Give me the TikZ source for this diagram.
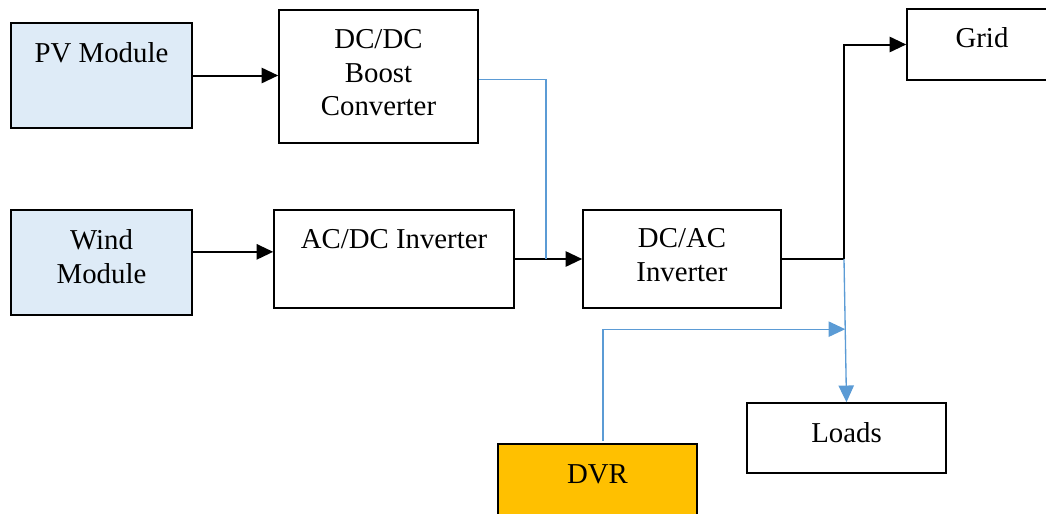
\documentclass[tikz,border=0pt]{standalone}
\usepackage{fontspec}
\setmainfont{Liberation Serif}
\usetikzlibrary{arrows.meta,fit,calc}
\definecolor{linkblue}{HTML}{5B9BD5}
\definecolor{pvfill}{HTML}{DEEBF7}
\definecolor{dvrfill}{HTML}{FFC000}
\tikzset{
  box/.style={draw=black, line width=1.2pt, rectangle, inner sep=0pt},
  srcbox/.style={box, fill=pvfill},
  dvrbox/.style={box, fill=dvrfill},
  lbl/.style={anchor=base, inner sep=0pt, font=\fontsize{21.6}{25.5}\selectfont},
  flow/.style={draw=black, line width=1.5pt, -{Triangle[length=12.5pt,width=11.5pt]}},
  flowplain/.style={draw=black, line width=1.5pt},
  ctrl/.style={draw=linkblue, line width=1pt},
  ctrlarrow/.style={ctrl, -{Triangle[length=12.5pt,width=11.5pt]}},
}
\newcommand{\stack}[1]{\begin{tabular}[t]{@{}c@{}}#1\end{tabular}}
\begin{document}
\begin{tikzpicture}[x=0.75pt,y=-0.75pt]
  \useasboundingbox (0,0) rectangle (1046,514);
  \clip (0,0) rectangle (1046,514);

  % blocks
  \node[srcbox, fit={(11,23) (192,128)}] (pv) {};
  \node[box, fit={(279,10) (478,143)}] (dcdc) {};
  \node[srcbox, fit={(11,210) (192,315)}] (wind) {};
  \node[box, fit={(274,210) (514,308)}] (acdc) {};
  \node[box, fit={(583,210) (781,308)}] (dcac) {};
  \node[box, fit={(907,9) (1057,80)}] (grid) {};
  \node[box, fit={(747,403) (946,473)}] (loads) {};
  \node[dvrbox, fit={(498,444) (697,540)}] (dvr) {};

  % block texts
  \node[lbl] (pvtext) at (101.5,62) {PV Module};
  \node[lbl] (dcdctext) at (378.5,48) {\stack{DC/DC\\Boost\\Converter}};
  \node[lbl] (windtext) at (101.5,249) {\stack{Wind\\Module}};
  \node[lbl] (acdctext) at (394,248) {AC/DC Inverter};
  \node[lbl] (dcactext) at (682,247) {\stack{DC/AC\\Inverter}};
  \node[lbl] (gridtext) at (982,47) {Grid};
  \node[lbl] (loadstext) at (846.5,442) {Loads};
  \node[lbl] (dvrtext) at (597.5,483) {DVR};

  % junction points
  \coordinate (j1) at (546,259);
  \coordinate (j2) at (844,259);
  \coordinate (j3) at ($(j2)!0.49!(loads.north)$);
  \coordinate (dvrout) at (603,441);
  \coordinate (windout) at ($(wind.north east)!0.4!(wind.south east)$);
  \coordinate (dcdcout) at ($(dcdc.north east)!0.52!(dcdc.south east)$);

  % power flow
  \draw[flow] (pv.east) -- (pv.east -| dcdc.west);
  \draw[flow] (windout) -- (windout -| acdc.west);
  \draw[flow] (acdc.east) -- (dcac.west);
  \draw[flowplain] (dcac.east) -- (j2);
  \draw[flow] (j2) |- (grid.west);

  % blue links
  \draw[ctrl] (dcdcout) -| (j1);
  \draw[ctrlarrow] (j2) -- (loads.north);
  \draw[ctrlarrow] (dvrout) |- (j3);
\end{tikzpicture}
\end{document}
